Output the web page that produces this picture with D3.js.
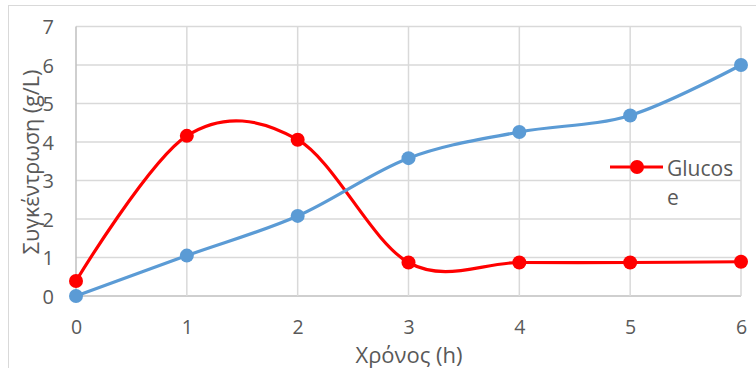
<!DOCTYPE html>
<html><head><meta charset="utf-8">
<script src="https://cdn.jsdelivr.net/npm/d3@7"></script>
<style>body{margin:0;background:#fff}svg{display:block}text{font-family:"Open Sans","Liberation Sans",sans-serif;fill:#595959}</style>
</head><body><svg id="c" width="756" height="368"></svg>
<script>
const hours = [0,1,2,3,4,5,6];
const glucose = [0.39,4.16,4.06,0.87,0.87,0.87,0.89];
const product = [0,1.05,2.08,3.58,4.26,4.69,6.0];
const yTicks = [0,1,2,3,4,5,6,7];
const xLabel = "Χρόνος (h)";
const yLabel = "Συγκέντρωση (g/L)";
const legendName = ["Glucos","e"];

const svg = d3.select("#c");
svg.append("rect").attr("x",8.5).attr("y",5.5).attr("width",754).attr("height",370)
  .attr("fill","none").attr("stroke","#d9d9d9").attr("stroke-width",1);

const x = d3.scaleLinear().domain([0,6]).range([76,741]);
const y = d3.scaleLinear().domain([0,7]).range([296,26.5]);

const g = svg.append("g");
g.selectAll(".hg").data(yTicks).join("line")
  .attr("x1",x(0)).attr("x2",x(6)).attr("y1",d=>y(d)).attr("y2",d=>y(d))
  .attr("stroke",d=>d===0?"#bfbfbf":"#d9d9d9").attr("stroke-width",1.5);
g.selectAll(".vg").data(hours).join("line")
  .attr("y1",y(0)).attr("y2",y(7)).attr("x1",d=>x(d)).attr("x2",d=>x(d))
  .attr("stroke",d=>d===0?"#bfbfbf":"#d9d9d9").attr("stroke-width",1.5);

const yAxis = svg.append("g").attr("transform","translate(76,0)")
  .call(d3.axisLeft(y).tickValues(yTicks).tickFormat(d3.format("d")).tickSize(0).tickPadding(22));
yAxis.select(".domain").remove();
yAxis.selectAll("text").attr("font-size",20).attr("dy","0.36em").style("font-family","'Open Sans',sans-serif").attr("fill","#595959");

const xAxis = svg.append("g").attr("transform","translate(0,296)")
  .call(d3.axisBottom(x).tickValues(hours).tickFormat(d3.format("d")).tickSize(0).tickPadding(0));
xAxis.select(".domain").remove();
xAxis.selectAll("text").attr("font-size",19.5).attr("y",38).attr("dy",0).style("font-family","'Open Sans',sans-serif").attr("fill","#595959");

svg.append("text").attr("x",409).attr("y",363).attr("text-anchor","middle").attr("font-size",22).text(xLabel);
svg.append("text").attr("transform","translate(39,162) rotate(-90)").attr("text-anchor","middle").attr("font-size",21.5).text(yLabel);

const line = d3.line().x((d,i)=>x(hours[i])).y(d=>y(d)).curve(d3.curveCardinal.tension(0));

function series(vals,color){
  svg.append("path").datum(vals).attr("d",line).attr("fill","none").attr("stroke",color).attr("stroke-width",3.2);
  svg.append("g").selectAll("circle").data(vals).join("circle")
    .attr("cx",(d,i)=>x(hours[i])).attr("cy",d=>y(d)).attr("r",7).attr("fill",color);
}
series(glucose,"#ff0000");
series(product,"#5b9bd5");

const lg = svg.append("g");
lg.append("line").attr("x1",610).attr("x2",663).attr("y1",167).attr("y2",167).attr("stroke","#ff0000").attr("stroke-width",3.2);
lg.append("circle").attr("cx",637).attr("cy",167).attr("r",7).attr("fill","#ff0000");
lg.selectAll("text").data(legendName).join("text").attr("x",667).attr("y",(d,i)=>176+i*29)
  .attr("font-size",21).text(d=>d);
</script></body></html>
